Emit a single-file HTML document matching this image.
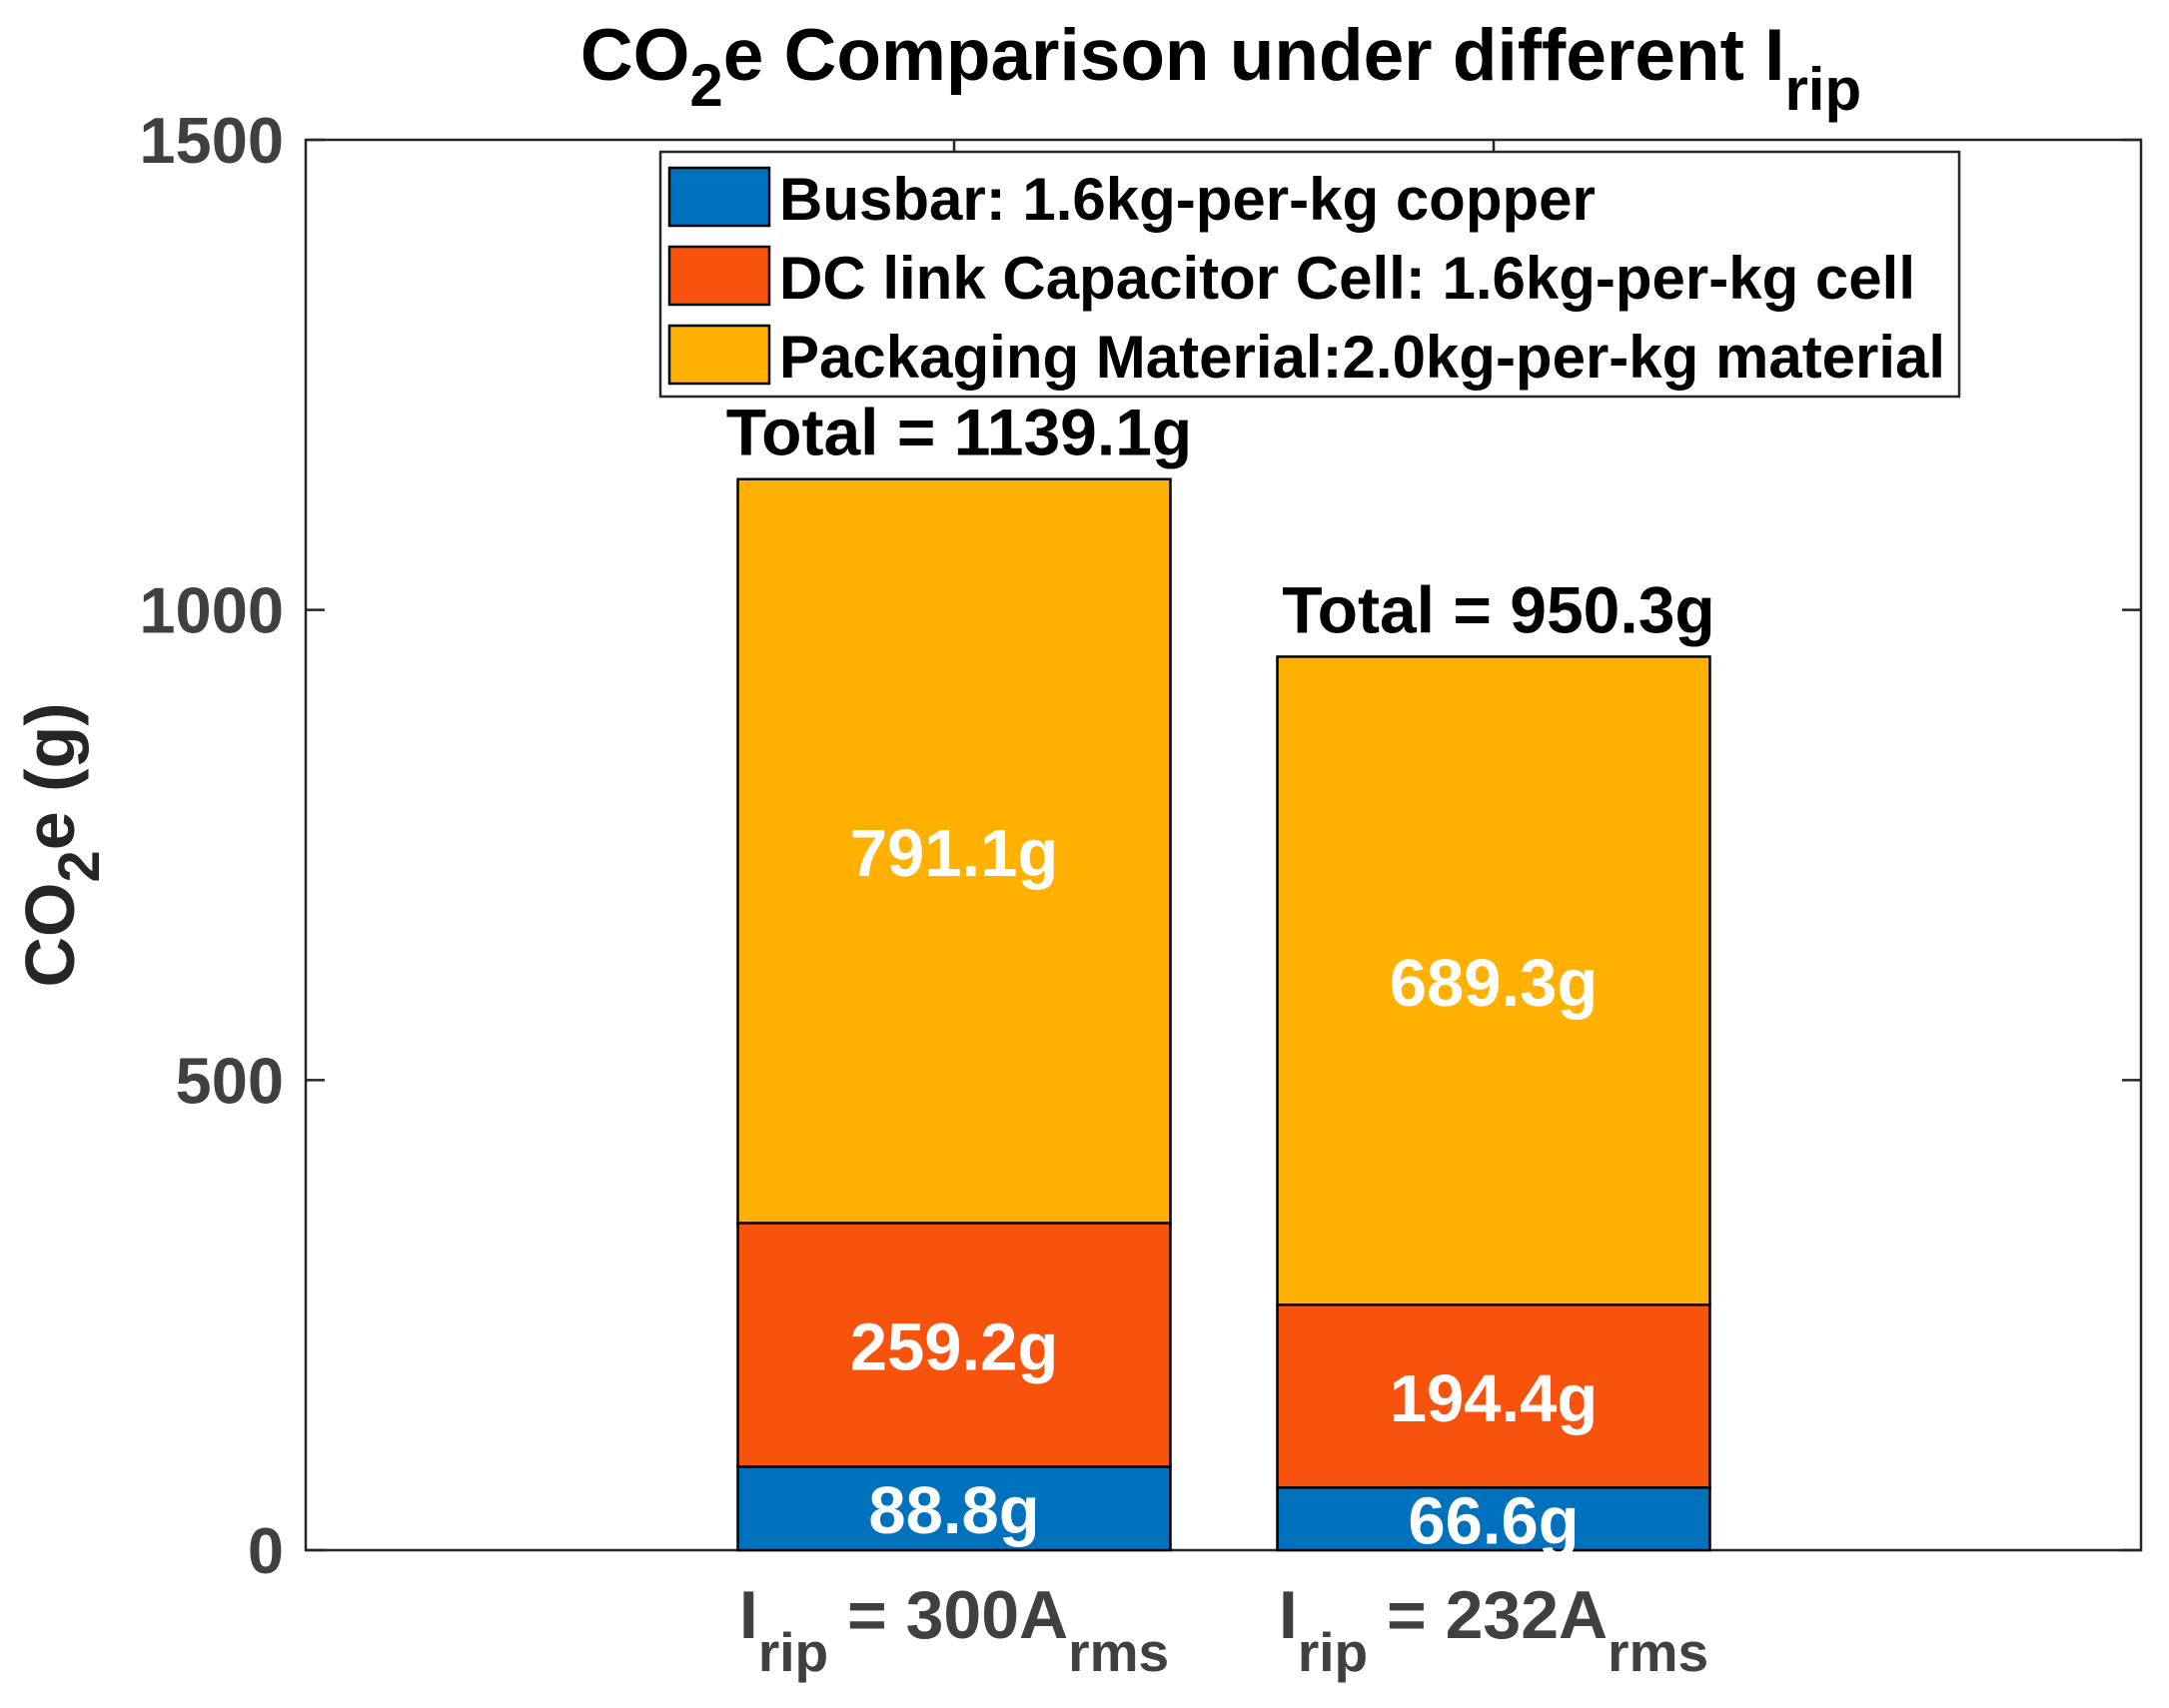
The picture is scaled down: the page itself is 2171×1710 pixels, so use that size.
<!DOCTYPE html>
<html><head><meta charset="utf-8"><style>
html,body{margin:0;padding:0;background:#fff;}
svg{display:block;font-family:"Liberation Sans",Arial,sans-serif;font-weight:bold;}
</style></head><body>
<svg id="chart" width="2171" height="1710" viewBox="0 0 2171 1710" xmlns="http://www.w3.org/2000/svg">
<rect x="0" y="0" width="2171" height="1710" fill="#fff"/>
<text x="1222" y="80" text-anchor="middle" font-size="73" fill="#000">CO<tspan dy="26" font-size="60">2</tspan><tspan dy="-26">e Comparison under different I</tspan><tspan dy="30" font-size="60">rip</tspan></text>
<text transform="translate(74,846) rotate(-90)" text-anchor="middle" font-size="70" fill="#262626">CO<tspan dy="25" font-size="58">2</tspan><tspan dy="-25">e (g)</tspan></text>
<g id="plot"></g>
</svg>
<script>
const categories = ["300", "232"];
const busbar = [88.8, 66.6];
const capacitor = [259.2, 194.4];
const packaging = [791.1, 689.3];
const totals = [1139.1, 950.3];
const yTicks = [0, 500, 1000, 1500];
const seriesNames = ["Busbar: 1.6kg-per-kg copper", "DC link Capacitor Cell: 1.6kg-per-kg cell", "Packaging Material:2.0kg-per-kg material"];

const NS = "http://www.w3.org/2000/svg";
const L = 306, R = 2143, T = 140, B = 1552;
const yMax = 1500;
function yS(v){ return B - v / yMax * (B - T); }
function xS(i){ return 955 + (i) * 540; }
const barW = 433;
const colors = ["#0072BD", "#F8530D", "#FFB000"];
const plot = document.getElementById('plot');
function mk(tag, attrs, parent){
  const e = document.createElementNS(NS, tag);
  for (const k in attrs) e.setAttribute(k, attrs[k]);
  (parent || plot).appendChild(e);
  return e;
}
let ax = mk('rect', {x:L, y:T, width:R-L, height:B-T, fill:'none', stroke:'#262626', 'stroke-width':2.5});


yTicks.forEach(function(v){
  const y = yS(v);
  const t1 = mk('line', {x1:L, x2:L+19, y1:y, y2:y, stroke:'#262626', 'stroke-width':2.5});
  
  
  const t2 = mk('line', {x1:R, x2:R-19, y1:y, y2:y, stroke:'#262626', 'stroke-width':2.5});
  
  
  const lb = mk('text', {x:284, y:y+23, 'text-anchor':'end', 'font-size':65, fill:'#404040'});
  lb.textContent = String(v);
  
  
});
const series = [busbar, capacitor, packaging];
const segNames = ['busbar', 'capacitor', 'packaging'];
categories.forEach(function(c, i){
  const cx = xS(i);
  const xt1 = mk('line', {x1:cx, x2:cx, y1:B, y2:B-19, stroke:'#262626', 'stroke-width':2.5});
  
  
  const xt2 = mk('line', {x1:cx, x2:cx, y1:T, y2:T+19, stroke:'#262626', 'stroke-width':2.5});
  
  
  let base = 0;
  series.forEach(function(s, k){
    const v = s[i];
    const y0 = yS(base), y1 = yS(base + v);
    const r = mk('rect', {x:cx-barW/2, y:y1, width:barW, height:y0-y1, fill:colors[k], stroke:'#000', 'stroke-width':2.5});
    
    
    const t = mk('text', {x:cx, y:(y0+y1)/2 + 25, 'text-anchor':'middle', 'font-size':67, fill:'#fff'});
    t.textContent = v.toFixed(1) + 'g';
    
    
    base += v;
  });
  const tt = mk('text', {x:cx + 5, y:yS(totals[i]) - 24, 'text-anchor':'middle', 'font-size':66, fill:'#000'});
  tt.textContent = 'Total = ' + totals[i].toFixed(1) + 'g';
  
  
  const xl = mk('text', {x:cx, y:1640, 'text-anchor':'middle', 'font-size':68, fill:'#404040'});
  
  
  const a = document.createElementNS(NS, 'tspan'); a.textContent = 'I'; xl.appendChild(a);
  const b = document.createElementNS(NS, 'tspan'); b.setAttribute('dy', '33'); b.setAttribute('font-size', '55'); b.textContent = 'rip'; xl.appendChild(b);
  const d = document.createElementNS(NS, 'tspan'); d.setAttribute('dy', '-33'); d.textContent = '\u00a0= ' + c + 'A'; xl.appendChild(d);
  const e = document.createElementNS(NS, 'tspan'); e.setAttribute('dy', '33'); e.setAttribute('font-size', '55'); e.textContent = 'rms'; xl.appendChild(e);
});
const lg = mk('g', {});


const lbox = mk('rect', {x:661, y:152, width:1300, height:245, fill:'#fff', stroke:'#262626', 'stroke-width':2.5}, lg);


seriesNames.forEach(function(n, k){
  const y = 168 + k * 79;
  const sw = mk('rect', {x:670, y:y, width:100, height:58, fill:colors[k], stroke:'#000', 'stroke-width':2.5}, lg);
  
  
  const t = mk('text', {x:780, y:y + 52, 'font-size':60, fill:'#000'}, lg);
  t.textContent = n;
  
  
});
</script>
</body></html>
